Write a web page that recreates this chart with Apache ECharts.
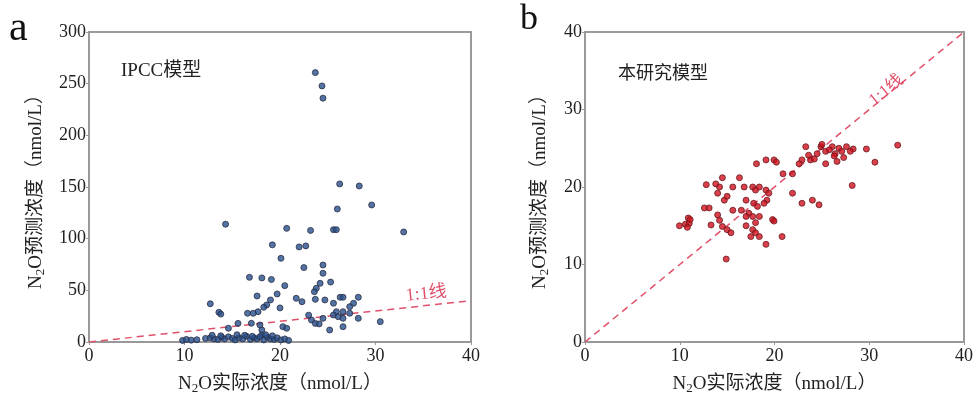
<!DOCTYPE html>
<html>
<head>
<meta charset="utf-8">
<script src="https://cdn.jsdelivr.net/npm/echarts@6/dist/echarts.min.js"></script>
<style>
  html, body { margin: 0; padding: 0; background: #fff; }
  #chart { width: 976px; height: 403px; }
</style>
</head>
<body>
<div id="chart"></div>
<script>
// panel a: IPCC model, measured vs predicted N2O (nmol/L)
const ipccX = [23.7, 24.4, 24.5, 26.25, 28.3, 29.6, 26.0, 32.95, 25.6, 25.9, 23.2, 20.7, 14.3, 19.2, 22.0, 22.7,
  20.1, 22.5, 24.5, 24.5, 25.3, 20.5, 16.8, 18.1, 19.1, 24.2, 23.8, 23.6, 12.7, 13.6, 13.8, 17.6, 19.7, 19.0,
  18.6, 18.3, 17.7, 17.2, 16.6, 20.0, 21.7, 22.3, 23.7, 24.7, 25.6, 26.3, 26.6, 28.2, 27.7, 27.3, 25.9, 26.6,
  27.3, 25.6, 26.1, 26.6, 28.2, 30.5, 23.0, 23.3, 23.7, 24.1, 25.2, 26.6, 24.5, 15.6, 14.6, 17.0, 17.9, 18.1,
  18.1, 20.3, 20.7,
  9.8, 10.2, 10.7, 11.3, 12.2, 12.7, 13.1, 13.5, 13.9, 14.2, 14.6, 15.0, 15.3, 15.7, 16.1, 16.5, 16.9, 17.3,
  17.6, 17.9, 18.3, 18.7, 19.0, 19.4, 19.7, 20.1, 20.5, 20.9, 13.8, 15.5, 16.3, 17.1, 18.5, 19.2, 12.9]
const ipccY = [260.7, 247.8, 236, 153, 151, 132.6, 128.7, 106.5, 108.7, 108.7, 108, 110, 114, 94, 92, 93,
  81, 72, 74.5, 66.5, 58, 54.5, 62.6, 62, 60.5, 56.8, 52, 48.7, 37, 28.7, 27, 44.5, 46.5, 40.7,
  35.8, 33.6, 29.3, 27.8, 27.8, 33, 42.3, 39, 41.3, 40.7, 37.5, 43.3, 43.3, 43.3, 37.5, 34.2, 29.3, 29.3,
  27.8, 26.1, 24.5, 22.9, 22.9, 19.7, 26, 21.3, 18, 17.5, 11.6, 14.8, 22.9, 18, 13.3, 18.1, 16.5, 11.6,
  6.8, 14.8, 13.3,
  1.5, 2.5, 1.8, 2.2, 3.5, 4, 3, 2.5, 4.5, 3, 5, 3.5, 2, 4, 3, 5.5, 2.5, 4,
  3, 5, 2, 4.5, 3, 2.5, 4, 2, 3, 1.5, 6, 7, 6.5, 5.5, 7, 6, 6.5]

// panel b: this study's model
const thisX = [33.0, 29.7, 30.6, 28.2, 26.1, 26.8, 27.6, 28.3, 24.9, 25.4, 26.4, 27.1, 28.0, 25.4, 26.6, 24.5,
  23.6, 23.3, 22.9, 22.6, 23.8, 21.9, 21.9, 20.9, 20.8, 19.95, 20.2, 19.1, 18.1, 22.9, 24.0, 24.7, 19.1, 14.9,
  9.97, 10.6, 10.9, 11.0, 10.8, 11.1, 12.8, 13.8, 14.2, 14.0, 14.5, 13.1, 12.6, 13.3, 14.0, 14.2, 14.5, 15.0,
  15.4, 14.7, 15.0, 15.6, 15.6, 16.3, 16.8, 17.0, 17.0, 17.7, 18.0, 18.4, 17.8, 18.2, 17.3, 17.7, 17.7, 18.0,
  17.5, 18.4, 19.1, 19.4, 19.2, 18.9, 18.0, 18.4, 19.8, 19.95, 17.0, 16.5, 25.8, 26.3, 27.3, 24.2, 25.0]
const thisY = [25.4, 24.9, 23.2, 20.2, 25.2, 25.0, 25.2, 24.9, 25.2, 24.6, 24.3, 24.6, 24.6, 23.0, 23.3, 24.3,
  24.1, 25.2, 23.5, 23.0, 23.5, 21.7, 19.2, 21.7, 13.6, 23.5, 23.2, 23.5, 23.0, 17.9, 18.3, 17.7, 12.6, 10.7,
  15.0, 15.2, 16.0, 15.3, 14.8, 15.8, 20.3, 20.4, 20.0, 19.2, 21.2, 17.3, 17.3, 15.1, 16.4, 15.7, 14.9, 14.5,
  14.1, 18.3, 18.8, 20.0, 17.0, 21.2, 20.0, 18.3, 15.0, 20.0, 19.6, 20.0, 17.9, 17.5, 16.6, 16.2, 14.5, 14.1,
  13.6, 13.6, 19.6, 19.2, 18.3, 17.9, 15.4, 16.2, 15.8, 15.6, 16.2, 17.0, 24.8, 24.0, 23.8, 23.6, 25.5]

// 1:1 reference line
const oneToOneX = [0, 40]
const oneToOneY = [0, 40]

const xTicks = [0, 10, 20, 30, 40]
const yTicksA = [0, 50, 100, 150, 200, 250, 300]
const yTicksB = [0, 10, 20, 30, 40]

const zip = (xs, ys) => xs.map((x, i) => [x, ys[i]])

const FRAME = '#999'
const TEXT = '#222'
const SERIF = '"Liberation Serif", "Noto Sans CJK SC", serif'
const RED = '#e0506a'

const nameRich = {
  a: { fontSize: 19, fontFamily: SERIF, color: TEXT },
  s: { fontSize: 13, fontFamily: SERIF, color: TEXT, padding: [9, 0, 0, 0] },
}

function xAxis(gridIndex) {
  return {
    type: 'value', gridIndex, min: 0, max: 40, interval: 10,
    name: '{a|N}{s|2}{a|O实际浓度（nmol/L）}',
    nameLocation: 'middle', nameGap: 31,
    nameTextStyle: { rich: nameRich },
    axisLine: { lineStyle: { color: FRAME, width: 2 } },
    axisTick: { length: 3, lineStyle: { color: FRAME } },
    axisLabel: { color: TEXT, fontSize: 18, fontFamily: SERIF, margin: 5,
      formatter: v => xTicks.includes(v) ? String(v) : '' },
    splitLine: { show: false },
  }
}

function yAxis(gridIndex, max, interval, ticks, gap) {
  return {
    type: 'value', gridIndex, min: 0, max, interval,
    name: '{a|N}{s|2}{a|O预测浓度（nmol/L）}',
    nameLocation: 'middle', nameGap: gap, nameRotate: 90,
    nameTextStyle: { rich: nameRich },
    axisLine: { lineStyle: { color: FRAME, width: 2 } },
    axisTick: { length: 3, lineStyle: { color: FRAME } },
    axisLabel: { color: TEXT, fontSize: 18, fontFamily: SERIF, margin: 3,
      formatter: v => ticks.includes(v) ? String(v) : '' },
    splitLine: { show: false },
  }
}

const refLine = (i) => ({
  type: 'line', xAxisIndex: i, yAxisIndex: i,
  data: zip(oneToOneX, oneToOneY),
  symbol: 'none', silent: true, z: 1,
  lineStyle: { color: RED, width: 1.5, type: [7, 5] },
})

const chart = echarts.init(document.getElementById('chart'))
chart.setOption({
  animation: false,
  backgroundColor: '#fff',
  grid: [
    { left: 89, top: 32, width: 382, height: 310, show: true, borderColor: FRAME, borderWidth: 2 },
    { left: 585, top: 32, width: 381, height: 310, show: true, borderColor: FRAME, borderWidth: 2 },
  ],
  xAxis: [xAxis(0), xAxis(1)],
  yAxis: [yAxis(0, 300, 50, yTicksA, 42), yAxis(1, 40, 10, yTicksB, 34)],
  graphic: [
    { type: 'text', left: 9, top: 8, style: { text: 'a', font: '42px "Liberation Serif", serif', fill: '#111' } },
    { type: 'text', left: 520, top: 2, style: { text: 'b', font: '36px "Liberation Serif", serif', fill: '#111' } },
    { type: 'text', left: 121, top: 62, style: { text: 'IPCC模型', font: '19px "Liberation Serif", "Noto Sans CJK SC", serif', fill: TEXT } },
    { type: 'text', left: 618, top: 63, style: { text: '本研究模型', font: '18px "Noto Sans CJK SC", serif', fill: TEXT } },
    { type: 'text', x: 405, y: 287, rotation: 0.1, style: { text: '1:1线', font: '18px "Liberation Serif", "Noto Sans CJK SC", serif', fill: RED } },
    { type: 'text', x: 866, y: 96, rotation: 0.69, style: { text: '1:1线', font: '17px "Liberation Serif", "Noto Sans CJK SC", serif', fill: RED } },
  ],
  series: [
    refLine(0),
    refLine(1),
    {
      type: 'scatter', xAxisIndex: 0, yAxisIndex: 0,
      data: zip(ipccX, ipccY), symbolSize: 6, z: 3,
      itemStyle: { color: '#27508c', borderColor: '#2a2e45', borderWidth: 1 },
    },
    {
      type: 'scatter', xAxisIndex: 1, yAxisIndex: 1,
      data: zip(thisX, thisY), symbolSize: 6, z: 3,
      itemStyle: { color: '#d0101c', borderColor: '#6a1a22', borderWidth: 1 },
    },
  ],
})
</script>
</body>
</html>
